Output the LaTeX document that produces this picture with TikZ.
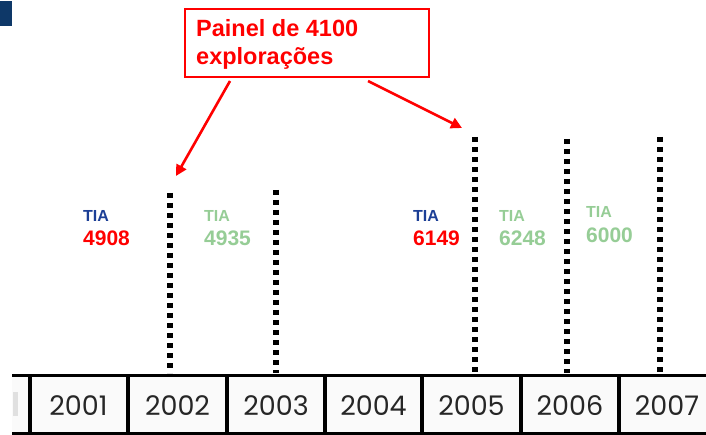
\documentclass[tikz,border=0pt]{standalone}
\usepackage{fontspec}
\setmainfont{Liberation Sans}
\newfontfamily\yearfont{Poppins}
\usetikzlibrary{arrows.meta}
\definecolor{navy}{RGB}{14,56,104}
\definecolor{tiablue}{RGB}{28,63,150}
\definecolor{tiared}{RGB}{255,0,0}
\definecolor{tiagreen}{RGB}{150,205,150}
\definecolor{boxgray}{RGB}{250,250,250}
\tikzset{
  lbl/.style={anchor=base west, inner sep=0pt, font=\bfseries\fontsize{16}{18}\selectfont},
  num/.style={anchor=base west, inner sep=0pt, font=\bfseries\fontsize{21}{24}\selectfont},
  ttl/.style={anchor=base west, inner sep=0pt, text=tiared, font=\bfseries\fontsize{23.5}{28}\selectfont},
  dotline/.style={line width=6pt, dash pattern=on 5pt off 5pt, line cap=butt, black},
  year/.style={anchor=base, inner sep=0pt, font=\yearfont\fontsize{27}{30}\selectfont, text=black!85},
  redarrow/.style={draw=tiared, line width=2.6pt, -{Triangle[length=11pt,width=11pt]}},
  tl/.style={line width=3.5pt, black}
}
\begin{document}
\begin{tikzpicture}[x=1pt,y=-1pt]
\useasboundingbox (0,0) rectangle (706,435);
\fill[white] (0,0) rectangle (706,435);
% corner mark
\fill[navy] (0,1) rectangle (12,26);
% title box
\node[draw=tiared, line width=1.3pt, minimum width=244pt, minimum height=68pt, inner sep=0pt] (title) at (307,43) {};
\node[ttl] (tline1) at (196,37) {Painel de 4100};
\node[ttl] (tline2) at (196,65) {explorações};
% arrow endpoints
\coordinate (a1s) at (230,81);
\coordinate (a1e) at (176,176);
\coordinate (a2s) at (368,81);
\coordinate (a2e) at (462,128);
\draw[redarrow] (a1s) -- (a1e);
\draw[redarrow] (a2s) -- (a2e);
% timeline boxes
\fill[boxgray] (12,376) rectangle (706,433);
\fill[black!12] (13,392) rectangle (18,416);
\draw[tl] (12,375.5) -- (706,375.5);
\draw[tl] (12,433.5) -- (706,433.5);
\foreach \x/\n in {29.5/d0,128/d1,227/d2,325/d3,422/d4,521/d5,619/d6}{
  \draw[line width=4pt] (\x,375) -- (\x,435);
}
\node[year] (y2001) at (78.5,415) {2001};
\node[year] (y2002) at (177.5,415) {2002};
\node[year] (y2003) at (276,415) {2003};
\node[year] (y2004) at (373.5,415) {2004};
\node[year] (y2005) at (471.5,415) {2005};
\node[year] (y2006) at (570,415) {2006};
\node[year] (y2007) at (667,415) {2007};
% dotted markers
\draw[dotline] (170,193) -- (170,373);
\draw[dotline] (276,190) -- (276,373);
\draw[dotline] (475,137) -- (475,373);
\draw[dotline] (567,139) -- (567,373);
\draw[dotline] (660,137) -- (660,373);
% labels
\node[lbl, text=tiablue] (t1) at (83,222) {TIA};
\node[num, text=tiared] (n1) at (83,246) {4908};
\node[lbl, text=tiagreen] (t2) at (204,222) {TIA};
\node[num, text=tiagreen] (n2) at (204,246) {4935};
\node[lbl, text=tiablue] (t3) at (413,222) {TIA};
\node[num, text=tiared] (n3) at (413,246) {6149};
\node[lbl, text=tiagreen] (t4) at (499,222) {TIA};
\node[num, text=tiagreen] (n4) at (499,246) {6248};
\node[lbl, text=tiagreen] (t5) at (586,218) {TIA};
\node[num, text=tiagreen] (n5) at (586,243) {6000};
\end{tikzpicture}
\end{document}
